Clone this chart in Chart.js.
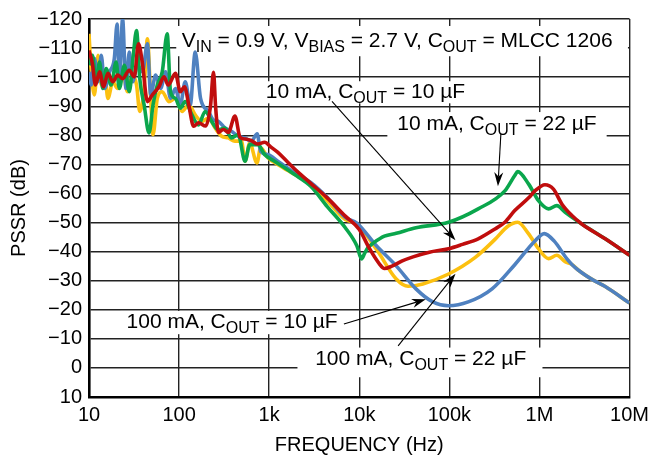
<!DOCTYPE html>
<html>
<head>
<meta charset="utf-8">
<script src="https://cdn.jsdelivr.net/npm/chart.js@4.4.1/dist/chart.umd.min.js"></script>
<style>
  html, body { margin: 0; padding: 0; background: #fff; }
  #wrap { width: 655px; height: 466px; }
</style>
</head>
<body>
<div id="wrap"><canvas id="pssr"></canvas></div>
<script>
// axis ticks
let xTickValues = [10, 100, 1e3, 1e4, 1e5, 1e6, 1e7];
let xTickLabels = ['10', '100', '1k', '10k', '100k', '1M', '10M'];
let yTickValues = [-120, -110, -100, -90, -80, -70, -60, -50, -40, -30, -20, -10, 0, 10];

// 10 mA, COUT = 10 uF (red)
let freqRed = [10, 10.9, 11.8, 13.1, 14.5, 16.2, 18.4, 20.8, 23.6, 28, 31.8, 35.4, 39.2, 44.5, 50.5, 59.8, 67.9, 75.7, 91.1, 103, 115, 128, 145, 165, 197, 223, 241, 254, 273, 310, 352, 417, 475, 540, 632, 750, 890, 1040, 1240, 1590, 2060, 2890, 4410, 7000, 10000, 13000, 16700, 19000, 23000, 30000, 39500, 60000, 98000, 140000, 209000, 321000, 413000, 532000, 759000, 892000, 1150000, 1430000, 1770000, 2290000, 2950000, 5370000, 10000000];
let pssrRed = [-109.2, -104.7, -97.3, -101.8, -96.7, -101.3, -98.4, -100.7, -99.5, -102.4, -100.1, -111.5, -104.7, -91.6, -93.9, -96.7, -100.1, -97.3, -101.3, -95, -96.7, -90.5, -83.1, -84.3, -83.2, -90, -101.7, -90, -81, -82, -81, -86.6, -79.3, -78.7, -78.2, -77, -77.6, -76, -74.2, -70.9, -67.5, -63.5, -58.5, -52.2, -47.6, -41, -35.8, -34.2, -35, -36.8, -38.2, -39.8, -41, -42.5, -44.4, -47.8, -50.1, -54.1, -58.5, -60.9, -63, -61.5, -56.4, -52.4, -49.5, -44.4, -38.75];

// 10 mA, COUT = 22 uF (green)
let freqGreen = [10, 10.9, 12, 13.1, 14.2, 15.5, 17.6, 20, 21.7, 24.7, 28, 31, 33.7, 36.6, 40.9, 46.4, 51.4, 57.3, 65, 73.8, 80.3, 91.1, 103, 117, 139, 164, 195, 230, 273, 323, 382, 453, 540, 608, 750, 889, 1145, 1897, 2890, 4410, 7000, 9400, 10600, 11500, 12600, 14400, 19000, 25700, 42600, 98000, 209000, 413000, 532000, 574000, 759000, 975000, 1260000, 1560000, 1930000, 2950000, 5370000, 10000000];
let pssrGreen = [-104.1, -107.5, -98.4, -105.2, -96.1, -103, -97.3, -105.2, -96.1, -104.1, -95, -107.5, -116, -99.5, -90.5, -80.8, -90.5, -97.3, -101.8, -114.9, -95, -92.7, -89.3, -91.6, -87, -83.6, -88.2, -84.8, -81.9, -82.5, -79.1, -80.2, -71.1, -76.8, -76.8, -73.4, -71.1, -66.6, -62.5, -55.5, -48.2, -42, -37.5, -39.5, -41.5, -43, -45.3, -46.3, -48.2, -50.1, -54.7, -60.9, -66.2, -67.5, -63.2, -57.5, -54.7, -55.8, -53.5, -49.5, -44.4, -38.75];

// 100 mA, COUT = 10 uF (blue)
let freqBlue = [10, 10.6, 11.5, 12.6, 13.7, 14.9, 16.9, 19.1, 20.5, 21.7, 23.6, 25.7, 28, 30.4, 34.6, 39.2, 44.5, 48.4, 55, 62.4, 70.8, 80.3, 91.1, 103, 117, 133, 151, 173, 212, 240, 273, 323, 382, 453, 535, 634, 736, 803, 967, 1245, 1897, 2890, 4410, 7000, 9400, 15500, 25700, 42600, 65500, 98000, 162000, 298000, 532000, 881000, 1130000, 1460000, 2030000, 2290000, 2710000, 4000000, 5370000, 10000000];
let pssrBlue = [-101.8, -97.3, -106.4, -98.4, -107.5, -96.1, -101.8, -106.4, -118.3, -98.4, -120, -96.1, -108.6, -98.4, -104.1, -101.8, -111.5, -93.9, -100.7, -96.1, -101.8, -92.7, -96.1, -90.5, -98.4, -90.5, -108.6, -92.7, -88.2, -85.3, -84.8, -82.5, -81.4, -79.7, -79.1, -78, -80.5, -74.5, -73.4, -71.1, -67.2, -63.75, -58.6, -51.8, -49.8, -42, -35.1, -27.2, -22.7, -21.4, -22.7, -27.2, -35.5, -43.5, -46.2, -43.6, -37.4, -35.6, -33.6, -30.1, -28, -22.3];

// 100 mA, COUT = 22 uF (yellow)
let freqYellow = [10, 10.6, 11.5, 12.6, 13.7, 14.9, 16.2, 18.4, 20.8, 23.6, 26.8, 30.4, 33.7, 36.6, 40.9, 44.5, 48.4, 51.4, 57.3, 65, 77, 91.1, 108, 128, 151, 179, 212, 251, 297, 351, 416, 492, 540, 608, 731, 803, 967, 1245, 1897, 2890, 4410, 7000, 9400, 15500, 25700, 34800, 50800, 98000, 194000, 321000, 446000, 574000, 759000, 975000, 1260000, 1560000, 1930000, 2290000, 2710000, 4000000, 5370000, 10000000];
let pssrYellow = [-114.9, -101.8, -93.9, -107.5, -97.3, -101.8, -92.7, -98.4, -96.1, -101.8, -95, -100.7, -97.3, -88.2, -96.1, -113.2, -92.7, -80.2, -92.7, -95, -91.6, -92.7, -88.2, -90.5, -87, -84.8, -85.9, -82.5, -79.7, -79.1, -78, -78, -71.1, -77.4, -70.5, -75.7, -72.3, -70, -66.6, -63.2, -57.5, -51, -49.5, -40.8, -30.6, -28.1, -28.9, -32.3, -38, -44.2, -48.7, -50.1, -46.1, -41, -37.6, -38.75, -36.5, -35.6, -33.6, -30.1, -28, -22.3];

// callouts: text runs [text, subscript], anchor and white box in data units
let notes = [
  { parts: [['V', 0], ['IN', 1], [' = 0.9 V, V', 0], ['BIAS', 1], [' = 2.7 V, C', 0], ['OUT', 1], [' = MLCC 1206', 0]],
    at: [107, -110.3], box: [93, -117.6, 9.6e6, -107.2] },
  { parts: [['10 mA, C', 0], ['OUT', 1], [' = 10 \u00b5F', 0]],
    at: [918, -93], box: [800, -98.6, 180000, -91] },
  { parts: [['10 mA, C', 0], ['OUT', 1], [' = 22 \u00b5F', 0]],
    at: [26400, -81.9], box: [20500, -88, 5570000, -79.2] },
  { parts: [['100 mA, C', 0], ['OUT', 1], [' = 10 \u00b5F', 0]],
    at: [26.1, -13.7], box: [22.4, -19.6, 6100, -11.6] },
  { parts: [['100 mA, C', 0], ['OUT', 1], [' = 22 \u00b5F', 0]],
    at: [3240, -0.85], box: [2060, -7, 1080000, 3.2] }
];
let arrows = [
  [4980, -91.7, 117000, -43.9],
  [373000, -80.5, 346000, -62.5],
  [6750, -15.1, 54800, -23.6],
  [27000, -7.6, 117000, -32.4]
];

let family = "'Liberation Sans', Arial, Helvetica, sans-serif";
let mainFont = '21px ' + family;
let subFont = '16px ' + family;

function zip(fs, vs) {
  return fs.map((f, i) => ({ x: f, y: vs[i] }));
}

function drawRich(ctx, parts, x, y) {
  let cx = x;
  parts.forEach(p => {
    ctx.font = p[1] ? subFont : mainFont;
    ctx.fillText(p[0], cx, y + (p[1] ? 5 : 0));
    cx += ctx.measureText(p[0]).width;
  });
}

function drawArrow(ctx, x0, y0, x1, y1) {
  let a = Math.atan2(y1 - y0, x1 - x0);
  let c = Math.cos(a), s = Math.sin(a);
  let len = 14, half = 4.5;
  ctx.strokeStyle = '#000';
  ctx.lineWidth = 1.1;
  ctx.beginPath();
  ctx.moveTo(x0, y0);
  ctx.lineTo(x1 - len * 0.7 * c, y1 - len * 0.7 * s);
  ctx.stroke();
  ctx.fillStyle = '#000';
  ctx.beginPath();
  ctx.moveTo(x1, y1);
  ctx.lineTo(x1 - len * c - half * s, y1 - len * s + half * c);
  ctx.lineTo(x1 - len * 0.7 * c, y1 - len * 0.7 * s);
  ctx.lineTo(x1 - len * c + half * s, y1 - len * s - half * c);
  ctx.closePath();
  ctx.fill();
}

let notesPlugin = {
  id: 'notes',
  beforeDatasetsDraw(chart) {
    let { ctx, scales: { x, y } } = chart;
    ctx.save();
    ctx.fillStyle = '#fff';
    notes.forEach(n => {
      let x0 = x.getPixelForValue(n.box[0]), x1 = x.getPixelForValue(n.box[2]);
      let y0 = y.getPixelForValue(n.box[1]), y1 = y.getPixelForValue(n.box[3]);
      ctx.fillRect(x0, y0, x1 - x0, y1 - y0);
    });
    ctx.restore();
  },
  afterDatasetsDraw(chart) {
    let { ctx, scales: { x, y } } = chart;
    ctx.save();
    ctx.fillStyle = '#000';
    ctx.textBaseline = 'alphabetic';
    notes.forEach(n => {
      drawRich(ctx, n.parts, x.getPixelForValue(n.at[0]), y.getPixelForValue(n.at[1]));
    });
    arrows.forEach(a => {
      drawArrow(ctx, x.getPixelForValue(a[0]), y.getPixelForValue(a[1]),
                     x.getPixelForValue(a[2]), y.getPixelForValue(a[3]));
    });
    ctx.restore();
  }
};

let tickFont = { family: family, size: 20 };
let titleFont = { family: family, size: 20 };

let config = {
  type: 'scatter',
  data: {
    datasets: [
      { data: zip(freqRed, pssrRed), borderColor: '#c00d0d' },
      { data: zip(freqGreen, pssrGreen), borderColor: '#0aa64c' },
      { data: zip(freqBlue, pssrBlue), borderColor: '#4f81c0' },
      { data: zip(freqYellow, pssrYellow), borderColor: '#fcc010' }
    ]
  },
  options: {
    responsive: true,
    maintainAspectRatio: false,
    animation: false,
    layout: { padding: { top: 14, right: 19, left: 0, bottom: 0 } },
    plugins: {
      legend: { display: false },
      tooltip: { enabled: false }
    },
    datasets: {
      scatter: { showLine: true, pointRadius: 0, borderWidth: 3.6, cubicInterpolationMode: 'monotone' }
    },
    scales: {
      x: {
        type: 'logarithmic',
        min: 10,
        max: 1e7,
        afterBuildTicks: s => { s.ticks = xTickValues.map(v => ({ value: v })); },
        afterFit: s => { s.height = 69; },
        ticks: {
          autoSkip: false, maxRotation: 0, padding: 6, color: '#000', font: tickFont,
          callback: (v, i) => xTickLabels[i]
        },
        grid: { color: '#222', lineWidth: 1.4, drawTicks: false },
        border: { color: '#000', width: 2.6 },
        title: { display: true, text: 'FREQUENCY (Hz)', color: '#000', font: titleFont, padding: { top: 0, bottom: 9 } }
      },
      y: {
        type: 'linear',
        min: -120,
        max: 10,
        reverse: true,
        afterBuildTicks: s => { s.ticks = yTickValues.map(v => ({ value: v })); },
        afterFit: s => { s.width = 89; },
        ticks: {
          padding: 7, color: '#000', font: tickFont,
          callback: v => (v < 0 ? '\u2212' + Math.abs(v) : String(v))
        },
        grid: { color: '#222', lineWidth: 1.4, drawTicks: false },
        border: { color: '#000', width: 2.6 },
        title: { display: true, text: 'PSSR (dB)', color: '#000', font: titleFont, padding: { top: 7, bottom: 0 } }
      }
    }
  },
  plugins: [notesPlugin]
};

let chart = new Chart(document.getElementById('pssr').getContext('2d'), config);
</script>
</body>
</html>
